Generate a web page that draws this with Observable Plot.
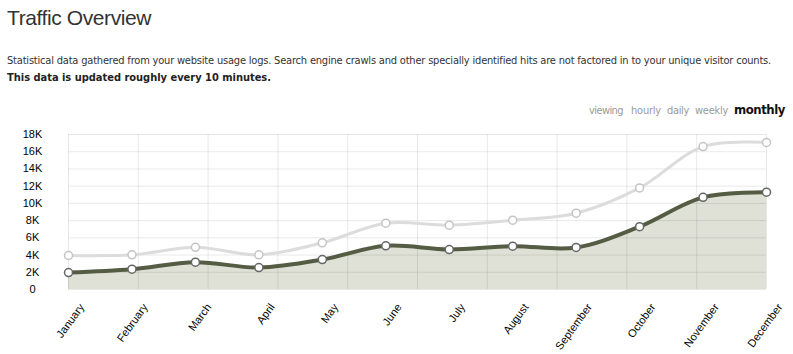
<!DOCTYPE html>
<html>
<head>
<meta charset="utf-8">
<script src="https://cdn.jsdelivr.net/npm/d3@7"></script>
<script src="https://cdn.jsdelivr.net/npm/@observablehq/plot@0.6"></script>
<style>
  html, body { margin: 0; padding: 0; background: #fff; }
  body { width: 793px; height: 354px; position: relative; overflow: hidden; font-family: "DejaVu Sans Condensed", "DejaVu Sans", sans-serif; }
  #title { position: absolute; left: 7px; top: 6px; font: 21px "Liberation Sans", Arial, sans-serif; color: #333; letter-spacing: -0.4px; }
  #desc { position: absolute; left: 7px; top: 52px; font-size: 11px; color: #333; line-height: 17px; white-space: nowrap; }
  #desc span { display: inline-block; }
  #desc b { color: #222; }
  .nav { position: absolute; top: 104px; font-size: 11px; color: #9a9a9a; white-space: nowrap; }
  .nav.cur { color: #111; font-size: 13px; font-weight: bold; top: 102px; }
  #chart { position: absolute; left: 0; top: 120px; }
</style>
</head>
<body>
<div id="title">Traffic Overview</div>
<div id="desc"><span id="line1">Statistical data gathered from your website usage logs. Search engine crawls and other specially identified hits are not factored in to your unique visitor counts.</span><br><b id="line2">This data is updated roughly every 10 minutes.</b></div>
<span class="nav" id="n0" style="left:589px">viewing</span>
<span class="nav" id="n1" style="left:631px">hourly</span>
<span class="nav" id="n2" style="left:667px">daily</span>
<span class="nav" id="n3" style="left:695px">weekly</span>
<span class="nav cur" id="n4" style="left:734px">monthly</span>
<div id="chart"></div>
<script>
const months = ["January","February","March","April","May","June","July","August","September","October","November","December"];
const uniqueVisitors = [1970, 2360, 3170, 2550, 3480, 5070, 4640, 5030, 4880, 7300, 10700, 11300];
const totalHits = [3950, 4030, 4900, 4030, 5420, 7700, 7470, 8050, 8860, 11800, 16600, 17070];
const yTicks = [0, 2000, 4000, 6000, 8000, 10000, 12000, 14000, 16000, 18000];
const gridX = [0, 1.1, 2.2, 3.3, 4.4, 5.5, 6.6, 7.7, 8.8, 9.9, 11];

// fit text widths to the reference
function fit(el, target) {
  const w = el.getBoundingClientRect().width;
  const n = el.textContent.length;
  el.style.letterSpacing = ((target - w) / n) + "px";
}
fit(document.getElementById("line1"), 764);
fit(document.getElementById("line2"), 264);
fit(document.getElementById("n0"), 34);
fit(document.getElementById("n1"), 30);
fit(document.getElementById("n2"), 22);
fit(document.getElementById("n3"), 33);
fit(document.getElementById("n4"), 51);

const data = months.map((m, i) => ({i, month: m, unique: uniqueVisitors[i], hits: totalHits[i]}));

const chart = Plot.plot({
  width: 793,
  height: 234,
  marginLeft: 68,
  marginRight: 27,
  marginTop: 14,
  marginBottom: 65,
  style: {fontFamily: "'Liberation Sans', Arial, sans-serif", fontSize: "11px", color: "#000", background: "#fff"},
  x: {type: "linear", domain: [0, 11], label: null},
  y: {domain: [0, 18000], label: null},
  marks: [
    Plot.areaY(data, {x: "i", y: "unique", curve: "catmull-rom", fill: "#dfe1d7"}),
    Plot.ruleY(yTicks, {stroke: "#000", strokeOpacity: 0.09}),
    Plot.ruleX(gridX, {stroke: "#000", strokeOpacity: 0.09}),
    Plot.lineY(data, {x: "i", y: "hits", curve: "catmull-rom", stroke: "#dcdcdc", strokeWidth: 3}),
    Plot.lineY(data, {x: "i", y: "unique", curve: "catmull-rom", stroke: "#545c44", strokeWidth: 4}),
    Plot.dot(data, {x: "i", y: "hits", r: 4, fill: "#fff", stroke: "#c4c4c4", strokeWidth: 1.5}),
    Plot.dot(data, {x: "i", y: "unique", r: 4, fill: "#fff", stroke: "#666", strokeWidth: 1.5}),
    Plot.axisY({ticks: yTicks, tickSize: 0, tickPadding: 36, textAnchor: "middle", label: null, tickFormat: d => d === 0 ? "0" : (d / 1000) + "K"}),
    Plot.axisX({ticks: d3.range(12), tickSize: 0, tickPadding: 13, rotate: -54, textAnchor: "end", label: null, fontSize: 11, tickFormat: i => months[i], dx: 10})
  ]
});
document.getElementById("chart").appendChild(chart);
</script>
</body>
</html>
